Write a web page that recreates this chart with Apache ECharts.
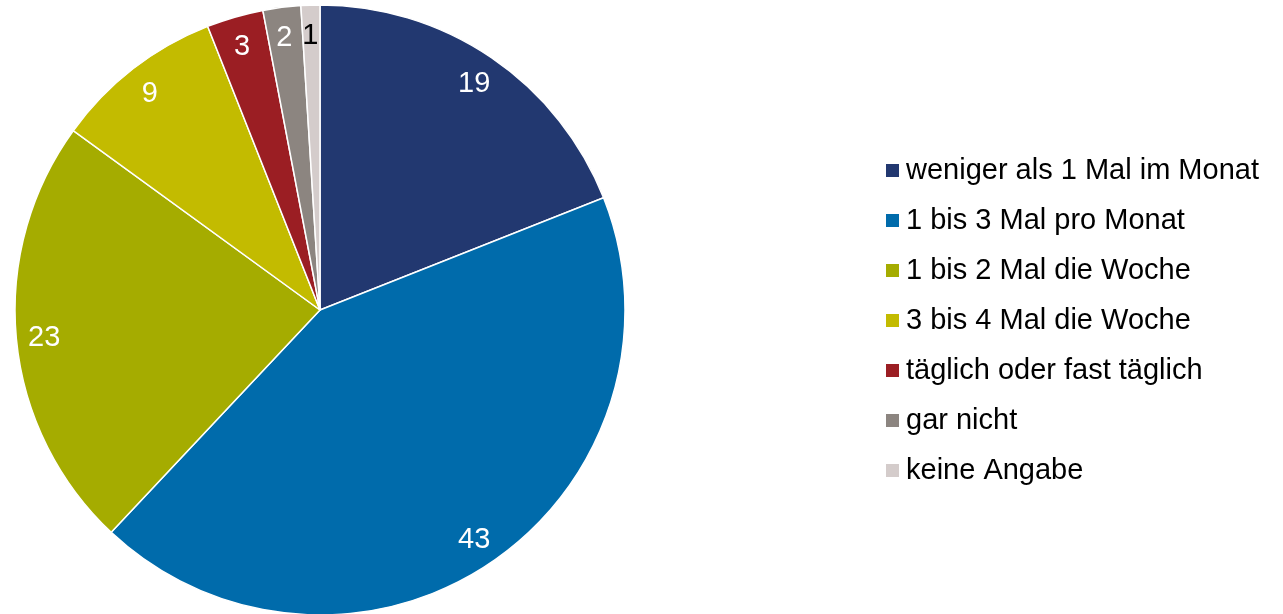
<!DOCTYPE html>
<html>
<head>
<meta charset="utf-8">
<script src="https://cdn.jsdelivr.net/npm/echarts@6/dist/echarts.min.js"></script>
<style>
  html, body { margin: 0; padding: 0; background: #ffffff; }
  #chart { width: 1283px; height: 614px; }
</style>
</head>
<body>
<div id="chart"></div>
<script>
// Frequency categories and their shares (percent)
const categories = [
  'weniger als 1 Mal im Monat',
  '1 bis 3 Mal pro Monat',
  '1 bis 2 Mal die Woche',
  '3 bis 4 Mal die Woche',
  'täglich oder fast täglich',
  'gar nicht',
  'keine Angabe'
];
const values = [19, 43, 23, 9, 3, 2, 1];
const colors = ['#223870', '#006bab', '#a5ac00', '#c3bb00', '#9b1e23', '#8c8580', '#d4cccb'];
const labelColors = ['#ffffff', '#ffffff', '#ffffff', '#ffffff', '#ffffff', '#ffffff', '#000000'];

const FONT = '"Liberation Sans", Arial, sans-serif';

const pieData = categories.map((name, i) => ({
  name,
  value: values[i],
  itemStyle: { color: colors[i] }
}));

// Label ring: same data, transparent wedges, labels centred in the ring
const labelData = categories.map((name, i) => ({
  name,
  value: values[i],
  itemStyle: { color: 'rgba(0,0,0,0)', borderWidth: 0 },
  label: { color: labelColors[i] }
}));

const chart = echarts.init(document.getElementById('chart'), null, { renderer: 'canvas' });
chart.setOption({
  animation: false,
  color: colors,
  legend: {
    orient: 'vertical',
    left: 879,
    top: 151,
    itemWidth: 15,
    itemHeight: 15,
    itemGap: 21,
    icon: 'rect',
    data: categories,
    textStyle: { fontFamily: FONT, fontSize: 29, color: '#000000', lineHeight: 29, padding: [0, 0, 0, 1] },
    selectedMode: false
  },
  series: [
    {
      type: 'pie',
      center: [320, 310],
      radius: [0, 305],
      startAngle: 90,
      clockwise: true,
      silent: true,
      label: { show: false },
      labelLine: { show: false },
      itemStyle: { borderColor: '#ffffff', borderWidth: 1.5 },
      data: pieData
    },
    {
      type: 'pie',
      center: [319, 312],
      radius: [241, 305],
      startAngle: 90,
      clockwise: true,
      silent: true,
      legendHoverLink: false,
      label: {
        show: true,
        position: 'inside',
        formatter: '{c}',
        fontFamily: FONT,
        fontSize: 29
      },
      labelLine: { show: false },
      emphasis: { disabled: true },
      data: labelData
    }
  ]
});
</script>
</body>
</html>
